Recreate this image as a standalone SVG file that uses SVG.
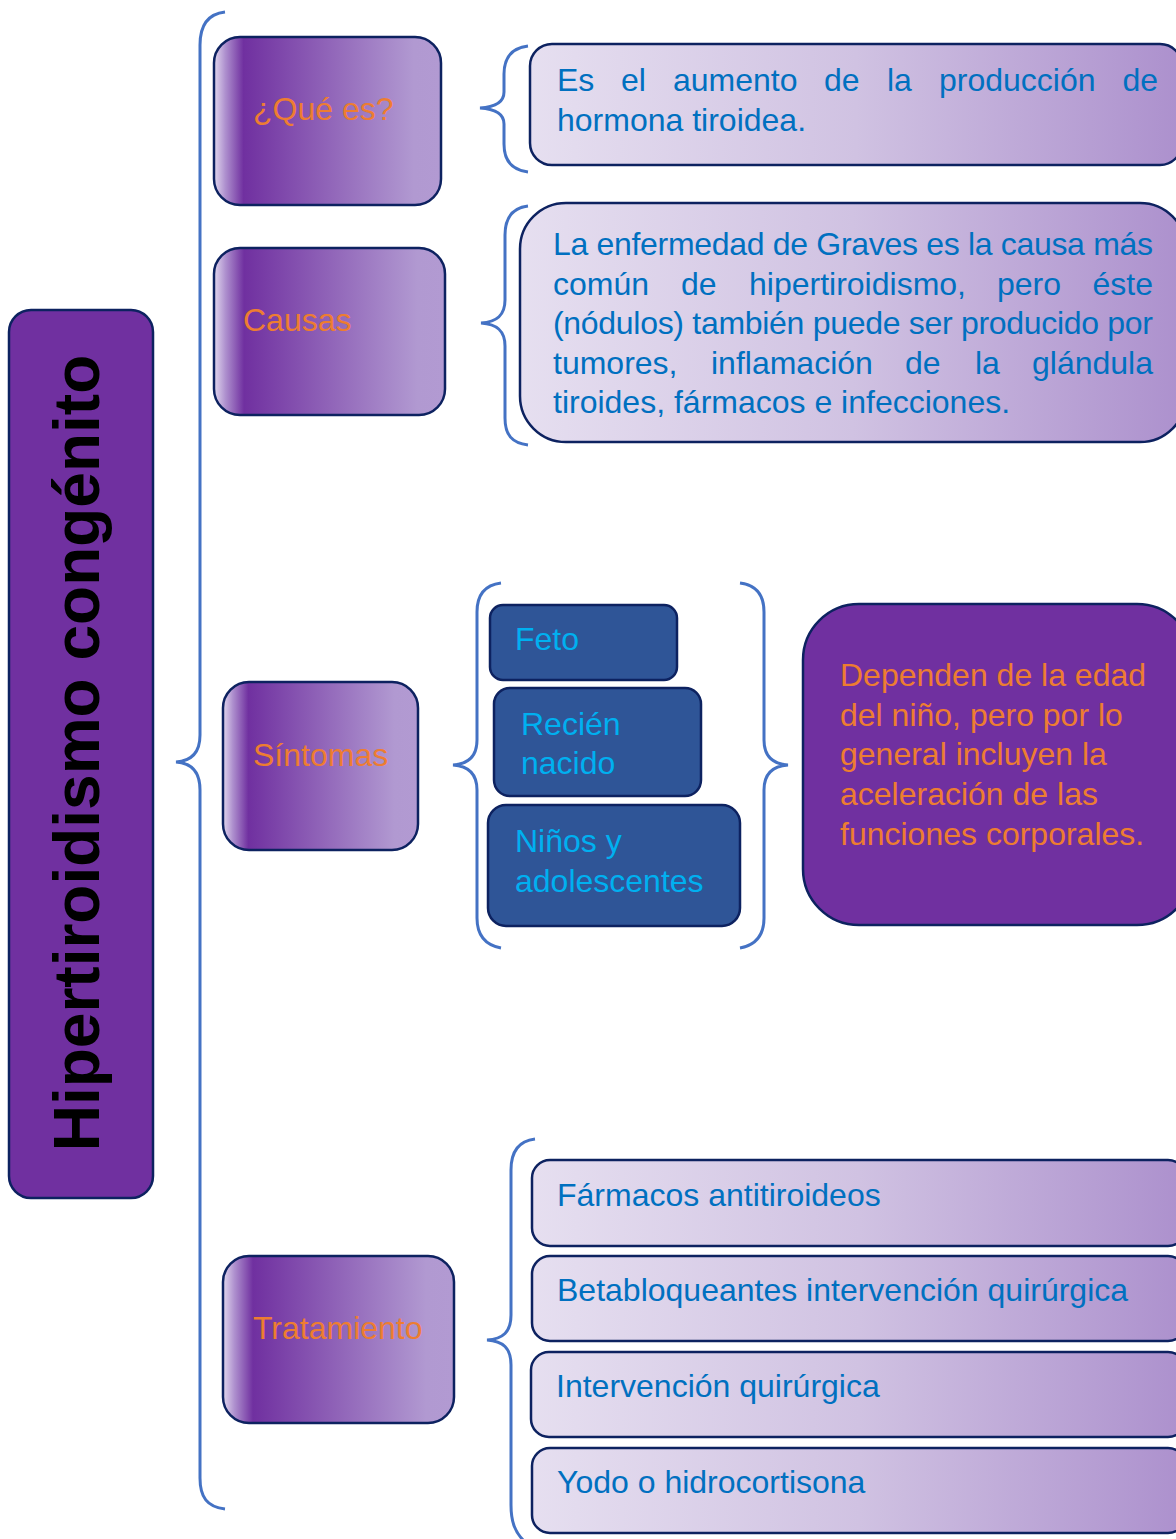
<svg xmlns="http://www.w3.org/2000/svg" width="1176" height="1539" viewBox="0 0 1176 1539">
<defs>
<linearGradient id="gNode" x1="0" y1="0" x2="1" y2="0">
<stop offset="0" stop-color="#E2D8EE"/>
<stop offset="0.05" stop-color="#AE90CE"/>
<stop offset="0.13" stop-color="#7030A0"/>
<stop offset="0.88" stop-color="#B199D1"/>
<stop offset="1" stop-color="#B29AD2"/>
</linearGradient>
<linearGradient id="gBox" x1="0" y1="0" x2="1" y2="0">
<stop offset="0" stop-color="#E6DFF0"/>
<stop offset="0.5" stop-color="#D0C2E2"/>
<stop offset="1" stop-color="#AC90CD"/>
</linearGradient>
</defs>
<style>
.node{fill:url(#gNode);stroke:#0D2260;stroke-width:2.5}
.box{fill:url(#gBox);stroke:#0D2260;stroke-width:2.5}
.sym{fill:#2F5597;stroke:#0D2260;stroke-width:2.5}
.dark{fill:#7030A0;stroke:#0D2260;stroke-width:2.5}
.brace{fill:none;stroke:#4472C4;stroke-width:3;stroke-linecap:butt}
text{font-family:"Liberation Sans",Arial,sans-serif;font-size:32px}
.or{fill:#ED7D31}
.bl{fill:#0070C0}
.cy{fill:#00B0F0}
.title{font-weight:bold;font-size:64px;fill:#000000}
</style>
<rect width="1176" height="1539" fill="#FFFFFF"/>

<g id="connectors">
<path class="brace" d="M225,12 C207,14 200,26 200,45 L200,735 C200,752 192,761 176,762 C192,763 200,772 200,790 L200,1478 C200,1497 207,1507 225,1509"/>
<path class="brace" d="M528,46 C512,48 504,58 504,74 L504,92 C504,102 496,107 480,108 C496,109 504,114 504,124 L504,144 C504,160 512,170 528,172"/>
<path class="brace" d="M528,206 C512,208 505,218 505,235 L505,300 C505,315 497,322 481,323 C497,324 505,331 505,346 L505,418 C505,435 512,443 528,445"/>
<path class="brace" d="M501,583 C485,585 477,595 477,612 L477,740 C477,756 468,764 453,765 C468,766 477,774 477,790 L477,918 C477,935 485,945 501,948"/>
<path class="brace" d="M740,583 C756,585 764,595 764,612 L764,740 C764,756 773,764 788,765 C773,766 764,774 764,790 L764,918 C764,935 756,945 740,948"/>
<path class="brace" d="M535,1139 C518,1141 511,1152 511,1170 L511,1315 C511,1332 503,1339 487,1340 C503,1341 511,1348 511,1365 L511,1505 C511,1522 515,1532 524,1541"/>
</g>

<g id="title">
<rect x="9" y="310" width="144" height="888" rx="22" class="dark"/>
<text class="title" transform="translate(99,753) rotate(-90)" text-anchor="middle">Hipertiroidismo congénito</text>
</g>

<g id="que-es">
<rect x="214" y="37" width="227" height="168" rx="26" class="node"/>
<text class="or" x="253" y="120">¿Qué es?</text>
</g>
<g id="causas">
<rect x="214" y="248" width="231" height="167" rx="26" class="node"/>
<text class="or" x="243" y="331">Causas</text>
</g>
<g id="sintomas">
<rect x="223" y="682" width="195" height="168" rx="26" class="node"/>
<text class="or" x="253" y="766">Síntomas</text>
</g>
<g id="tratamiento">
<rect x="223" y="1256" width="231" height="167" rx="26" class="node"/>
<text class="or" x="253" y="1339">Tratamiento</text>
</g>

<g id="def">
<rect x="530" y="44" width="652" height="121" rx="22" class="box"/>
<text class="bl" y="91"><tspan x="557">Es</tspan><tspan x="621">el</tspan><tspan x="673">aumento</tspan><tspan x="824">de</tspan><tspan x="887">la</tspan><tspan x="939">producción</tspan><tspan x="1158" text-anchor="end">de</tspan></text>
<text class="bl" x="557" y="131">hormona tiroidea.</text>
</g>

<g id="causas-text">
<rect x="520" y="203" width="666" height="239" rx="46" class="box"/>
<text class="bl" x="553" y="255" textLength="600" lengthAdjust="spacing">La enfermedad de Graves es la causa más</text>
<text class="bl" y="294.5"><tspan x="553">común</tspan><tspan x="681">de</tspan><tspan x="749">hipertiroidismo,</tspan><tspan x="997">pero</tspan><tspan x="1153" text-anchor="end">éste</tspan></text>
<text class="bl" x="553" y="334" textLength="600" lengthAdjust="spacing">(nódulos) también puede ser producido por</text>
<text class="bl" y="373.5"><tspan x="553">tumores,</tspan><tspan x="711">inflamación</tspan><tspan x="905">de</tspan><tspan x="975">la</tspan><tspan x="1153" text-anchor="end">glándula</tspan></text>
<text class="bl" x="553" y="413">tiroides, fármacos e infecciones.</text>
</g>

<g id="feto">
<rect x="490" y="605" width="187" height="75" rx="13" class="sym"/>
<text class="cy" x="515" y="650">Feto</text>
</g>
<g id="recien-nacido">
<rect x="494" y="688" width="207" height="108" rx="16" class="sym"/>
<text class="cy" x="521" y="735">Recién</text>
<text class="cy" x="521" y="774">nacido</text>
</g>
<g id="ninos">
<rect x="488" y="805" width="252" height="121" rx="18" class="sym"/>
<text class="cy" x="515" y="852">Niños y</text>
<text class="cy" x="515" y="892">adolescentes</text>
</g>

<g id="sintomas-text">
<rect x="803" y="604" width="390" height="321" rx="56" class="dark"/>
<text class="or" x="840" y="686">Dependen de la edad</text>
<text class="or" x="840" y="726">del niño, pero por lo</text>
<text class="or" x="840" y="765">general incluyen la</text>
<text class="or" x="840" y="805">aceleración de las</text>
<text class="or" x="840" y="845">funciones corporales.</text>
</g>

<g id="trat-1">
<rect x="532" y="1160" width="654" height="86" rx="18" class="box"/>
<text class="bl" x="557" y="1206">Fármacos antitiroideos</text>
</g>
<g id="trat-2">
<rect x="532" y="1256" width="654" height="85" rx="18" class="box"/>
<text class="bl" x="557" y="1301">Betabloqueantes intervención quirúrgica</text>
</g>
<g id="trat-3">
<rect x="531" y="1352" width="655" height="85" rx="18" class="box"/>
<text class="bl" x="556" y="1397">Intervención quirúrgica</text>
</g>
<g id="trat-4">
<rect x="532" y="1448" width="654" height="85" rx="18" class="box"/>
<text class="bl" x="557" y="1493">Yodo o hidrocortisona</text>
</g>
</svg>
